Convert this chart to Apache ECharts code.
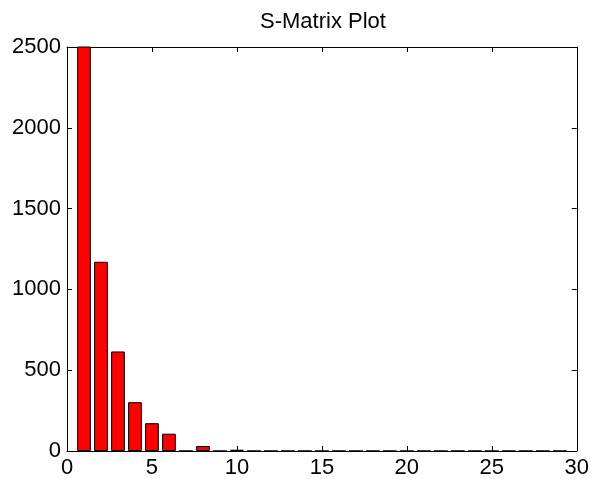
<!DOCTYPE html>
<html>
<head>
<meta charset="utf-8">
<script src="https://cdn.jsdelivr.net/npm/echarts@6/dist/echarts.min.js"></script>
<style>html,body{margin:0;padding:0;background:#fff}#c{width:592px;height:479px}</style>
</head>
<body>
<div id="c"></div>
<script>
const titleText = 'S-Matrix Plot';
const positions = [1,2,3,4,5,6,7,8,9,10,11,12,13,14,15,16,17,18,19,20,21,22,23,24,25,26,27,28,29];
const values = [2600,1171,616,302,172,107,0,31,0,8,0,0,0,0,0,0,0,0,0,0,0,0,0,0,0,0,0,0,0];
const xTicks = [0,5,10,15,20,25,30];
const yTicks = [0,500,1000,1500,2000,2500];

const chart = echarts.init(document.getElementById('c'), null, {renderer:'canvas'});
const grid = {left:67, top:47, right:11, bottom:27};
const plotW = 592 - grid.left - grid.right;
const xMin = xTicks[0], xMax = xTicks[xTicks.length-1];
const barW = 0.8 * plotW / (xMax - xMin);
const font = {fontFamily:'Liberation Sans, Arial, sans-serif', fontSize:22, color:'#000'};
const axisLine = {show:true, onZero:false, lineStyle:{color:'#000', width:1}};
const tick = {show:true, inside:true, length:5, lineStyle:{color:'#000', width:1}};
const fmt = v => String(v);
chart.setOption({
  animation:false,
  backgroundColor:'#fff',
  title:{text:titleText, top:11, padding:0, textStyle:Object.assign({fontWeight:'normal'}, font),
    left: grid.left + plotW/2 - 1, textAlign:'center'},
  grid:Object.assign({containLabel:false}, grid),
  xAxis:[
    {type:'value', min:xMin, max:xMax, interval:5, position:'bottom',
     axisLine, axisTick:tick, splitLine:{show:false},
     axisLabel:Object.assign({margin:6, formatter:fmt}, font)},
    {type:'value', min:xMin, max:xMax, interval:5, position:'top',
     axisLine, axisTick:tick, splitLine:{show:false}, axisLabel:{show:false}}
  ],
  yAxis:[
    {type:'value', min:yTicks[0], max:yTicks[yTicks.length-1], interval:500, position:'left',
     axisLine, axisTick:tick, splitLine:{show:false},
     axisLabel:Object.assign({margin:6, formatter:fmt}, font)},
    {type:'value', min:yTicks[0], max:yTicks[yTicks.length-1], interval:500, position:'right',
     axisLine, axisTick:tick, splitLine:{show:false}, axisLabel:{show:false}}
  ],
  series:[{
    type:'bar', xAxisIndex:0, yAxisIndex:0, clip:true,
    barWidth:barW,
    data:positions.map((p,i)=>[p, values[i]]),
    itemStyle:{color:'#ff0000', borderColor:'#000', borderWidth:1}
  }]
});
</script>
</body>
</html>
